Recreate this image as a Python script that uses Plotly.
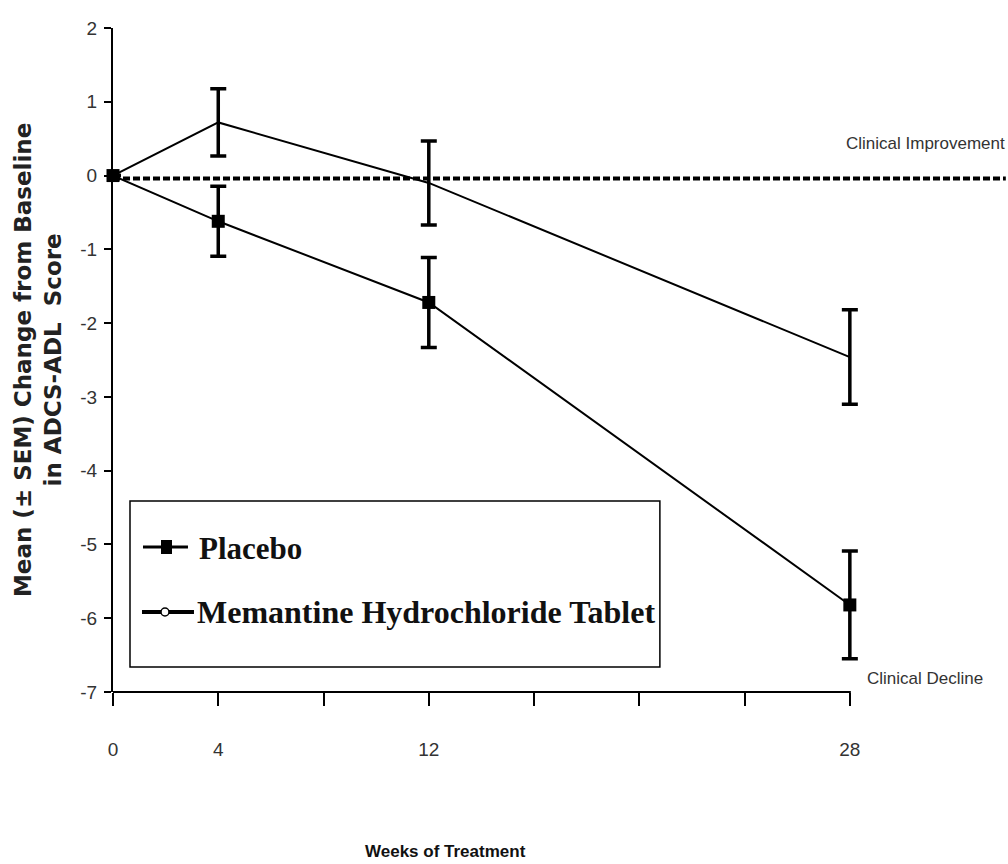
import plotly.graph_objects as go

# ---- data ----
weeks = [0, 4, 12, 28]
placebo_mean = [0.0, -0.62, -1.72, -5.82]
placebo_sem = [None, 0.475, 0.61, 0.73]
memantine_mean = [0.0, 0.72, -0.10, -2.46]
memantine_sem = [None, 0.455, 0.57, 0.64]

x_tickvals = [0, 4, 8, 12, 16, 20, 24, 28]
x_ticktext = ["0", "4", "", "12", "", "", "", "28"]
y_tickvals = [2, 1, 0, -1, -2, -3, -4, -5, -6, -7]
y_ticktext = ["2", "1", "0", "-1", "-2", "-3", "-4", "-5", "-6", "-7"]
ref_line_y = -0.04

series_names = ["Placebo", "Memantine Hydrochloride Tablet"]

# ---- layout geometry (pixels) ----
W, H = 1008, 864
X_MAX_WEEK = 28          # last tick; the axis line stops here
X_RANGE_MAX = 28.5       # a little headroom so the last error bar caps are not clipped
L, T, B = 113, 28, 692
R28 = 850                # pixel of week 28
R = L + (R28 - L) * X_RANGE_MAX / X_MAX_WEEK
PW, PH = R - L, B - T


def px(x):
    return (x - L) / PW


def py(y):
    return (B - y) / PH


sans = "Liberation Sans, Arial, sans-serif"
serif = "Liberation Serif, Times New Roman, serif"

fig = go.Figure()

fig.add_trace(go.Scatter(
    x=weeks, y=memantine_mean, name=series_names[1], mode="lines",
    line=dict(color="black", width=2),
    error_y=dict(type="data", array=memantine_sem, visible=True,
                 color="black", thickness=3.5, width=8),
    cliponaxis=False, showlegend=False,
))
fig.add_trace(go.Scatter(
    x=weeks, y=placebo_mean, name=series_names[0], mode="lines+markers",
    line=dict(color="black", width=2),
    marker=dict(symbol="square", size=13, color="black"),
    error_y=dict(type="data", array=placebo_sem, visible=True,
                 color="black", thickness=3.5, width=8),
    cliponaxis=False, showlegend=False,
))

shapes = []
# x axis line (stops at the last tick)
shapes.append(dict(type="line", xref="paper", yref="paper", x0=0, x1=px(R28) + 1 / PW,
                   y0=0, y1=0, line=dict(color="black", width=2)))
# dashed clinical reference line extending beyond the plot area
shapes.append(dict(type="line", xref="paper", yref="y", x0=0, x1=px(1006),
                   y0=ref_line_y, y1=ref_line_y,
                   line=dict(color="black", width=4, dash="7px,3px"), layer="below"))

# manual legend box
shapes.append(dict(type="rect", xref="paper", yref="paper",
                   x0=px(130), x1=px(660), y0=py(667), y1=py(501),
                   line=dict(color="black", width=1.5), fillcolor="white", layer="below"))
# placebo symbol
shapes.append(dict(type="line", xref="paper", yref="paper", x0=px(143), x1=px(188),
                   y0=py(547), y1=py(547), line=dict(color="black", width=3)))
shapes.append(dict(type="rect", xref="paper", yref="paper", x0=px(161), x1=px(172),
                   y0=py(554), y1=py(540), line=dict(color="black", width=0), fillcolor="black"))
# memantine symbol
shapes.append(dict(type="line", xref="paper", yref="paper", x0=px(142), x1=px(194),
                   y0=py(612), y1=py(612), line=dict(color="black", width=4)))
shapes.append(dict(type="circle", xref="paper", yref="paper", x0=px(161), x1=px(169),
                   y0=py(616), y1=py(608), line=dict(color="black", width=1.5), fillcolor="white"))

annotations = [
    dict(text="<b>Mean (± SEM) Change from Baseline<br>in ADCS-ADL  Score</b>",
         xref="paper", yref="paper", x=px(38), y=py(360), textangle=-90,
         showarrow=False, xanchor="center", yanchor="middle",
         font=dict(family="DejaVu Sans, sans-serif", size=23, color="#222"),
         ),
    dict(text="<b>Weeks of Treatment</b>", xref="paper", yref="paper",
         x=px(446), y=py(851), showarrow=False, xanchor="center", yanchor="middle",
         font=dict(family=sans, size=17, color="#111")),
    dict(text="Clinical Improvement", xref="paper", yref="paper",
         x=px(926), y=py(143), showarrow=False, xanchor="center", yanchor="middle",
         font=dict(family=sans, size=17, color="#333")),
    dict(text="Clinical Decline", xref="paper", yref="paper",
         x=px(925), y=py(678), showarrow=False, xanchor="center", yanchor="middle",
         font=dict(family=sans, size=17, color="#333")),
    dict(text="<b>" + series_names[0] + "</b>", xref="paper", yref="paper",
         x=px(197), y=py(548), showarrow=False, xanchor="left", yanchor="middle",
         font=dict(family=serif, size=31, color="#111")),
    dict(text="<b>" + series_names[1] + "</b>", xref="paper", yref="paper",
         x=px(195), y=py(612), showarrow=False, xanchor="left", yanchor="middle",
         font=dict(family=serif, size=32, color="#111")),
]

fig.update_layout(
    width=W, height=H,
    margin=dict(l=L, r=W - R, t=T, b=H - B, pad=0),
    paper_bgcolor="white", plot_bgcolor="white",
    showlegend=False,
    shapes=shapes, annotations=annotations,
    xaxis=dict(range=[0, X_RANGE_MAX], tickvals=x_tickvals, ticktext=x_ticktext,
               showgrid=False, zeroline=False, showline=False,
               ticks="outside", ticklen=13, tickwidth=2, tickcolor="black",
               ticklabelstandoff=27,
               tickfont=dict(family=sans, size=19, color="#333")),
    yaxis=dict(range=[-7, 2], tickvals=y_tickvals, ticktext=y_ticktext,
               showgrid=False, zeroline=False, showline=True, linecolor="black", linewidth=2,
               ticks="outside", ticklen=7, tickwidth=2, tickcolor="black",
               ticklabelstandoff=3,
               tickfont=dict(family=sans, size=19, color="#333")),
)

fig.write_html("out.html",
               config={"displayModeBar": False},
               post_script="document.body.style.margin='0';document.body.style.overflow='hidden';")
